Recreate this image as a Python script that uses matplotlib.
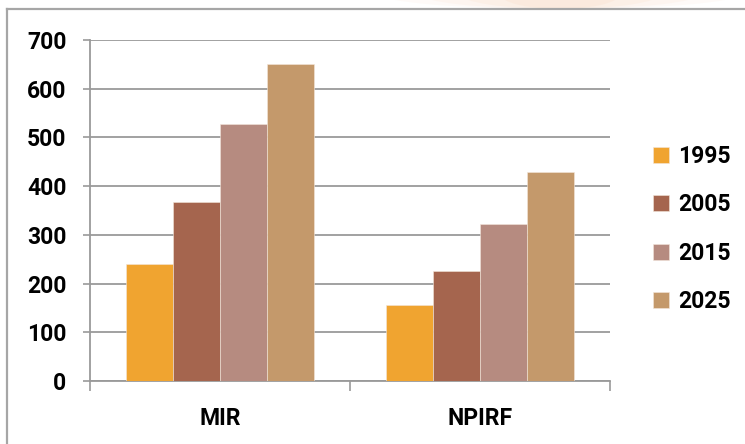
import numpy as np
import matplotlib
matplotlib.use('Agg')
import matplotlib.pyplot as plt
from matplotlib.patches import Ellipse

plt.rcParams['font.family'] = ['Roboto', 'DejaVu Sans']
plt.rcParams['font.weight'] = 'bold'

# ── data ────────────────────────────────────────────
categories = ['MIR', 'NPIRF']
years = ['1995', '2005', '2015', '2025']
values_1995 = [240, 157]
values_2005 = [367, 225]
values_2015 = [528, 322]
values_2025 = [651, 429]
series = [values_1995, values_2005, values_2015, values_2025]
colors = ['#F0A430', '#A5654E', '#B68B80', '#C4996B']

fig = plt.figure(figsize=(7.45, 4.44), dpi=100)
fig.patch.set_facecolor('white')

# faint warm glow at the top right corner
glow = fig.add_axes([0, 0, 1, 1], zorder=-5)
glow.set_xlim(0, 745)
glow.set_ylim(444, 0)
glow.axis('off')
for w, a in [(360, 0.05), (280, 0.06), (200, 0.07), (120, 0.08)]:
    glow.add_patch(Ellipse((560, -6), w, 30, color='#F2B07A', alpha=a, lw=0))
# chart border (top and left edges visible)
glow.plot([7, 745], [9.5, 9.5], color='#A6A6A6', lw=1.6)
glow.plot([7, 7], [9.5, 444], color='#A6A6A6', lw=1.6)

ax = fig.add_axes([90 / 745, 1 - 381 / 444, 520 / 745, 341 / 444])

x = np.arange(len(categories)) + 0.5
bar_w = 0.181
for i, (vals, col, yr) in enumerate(zip(series, colors, years)):
    offs = (i - 1.5) * bar_w
    ax.bar(x + offs, vals, width=bar_w, color=col, label=yr,
           edgecolor='#F3E6DA', linewidth=0.4, zorder=3)

ax.set_xlim(0, 2)
ax.set_ylim(0, 700)
ax.set_yticks(range(0, 701, 100))
ax.yaxis.grid(True, color='#9A9A9A', linewidth=1.3, zorder=0)
ax.set_axisbelow(True)

ax.set_xticks([0, 1, 2])
ax.set_xticklabels([])
ax.set_xticks(x, minor=True)
ax.set_xticklabels(categories, minor=True, fontweight='bold')
ax.tick_params(axis='x', which='major', length=7, width=1.2, color='#9A9A9A', direction='out')
ax.tick_params(axis='x', which='minor', length=0, pad=19, labelsize=16.5)
ax.tick_params(axis='y', length=5, width=1.2, color='#9A9A9A', pad=12, labelsize=16.5)
for t in ax.get_yticklabels():
    t.set_fontweight('bold')

for s in ['top', 'right']:
    ax.spines[s].set_visible(False)
for s in ['left', 'bottom']:
    ax.spines[s].set_color('#9A9A9A')
    ax.spines[s].set_linewidth(1.3)

fig.legend(loc='center left', bbox_to_anchor=(653 / 745, 1 - 229 / 444),
           frameon=False, prop={'size': 16.5, 'weight': 'bold'},
           handlelength=0.7, handleheight=0.7,
           handletextpad=0.4, labelspacing=1.1, borderpad=0, borderaxespad=0)

plt.savefig('out.png', dpi=100)
